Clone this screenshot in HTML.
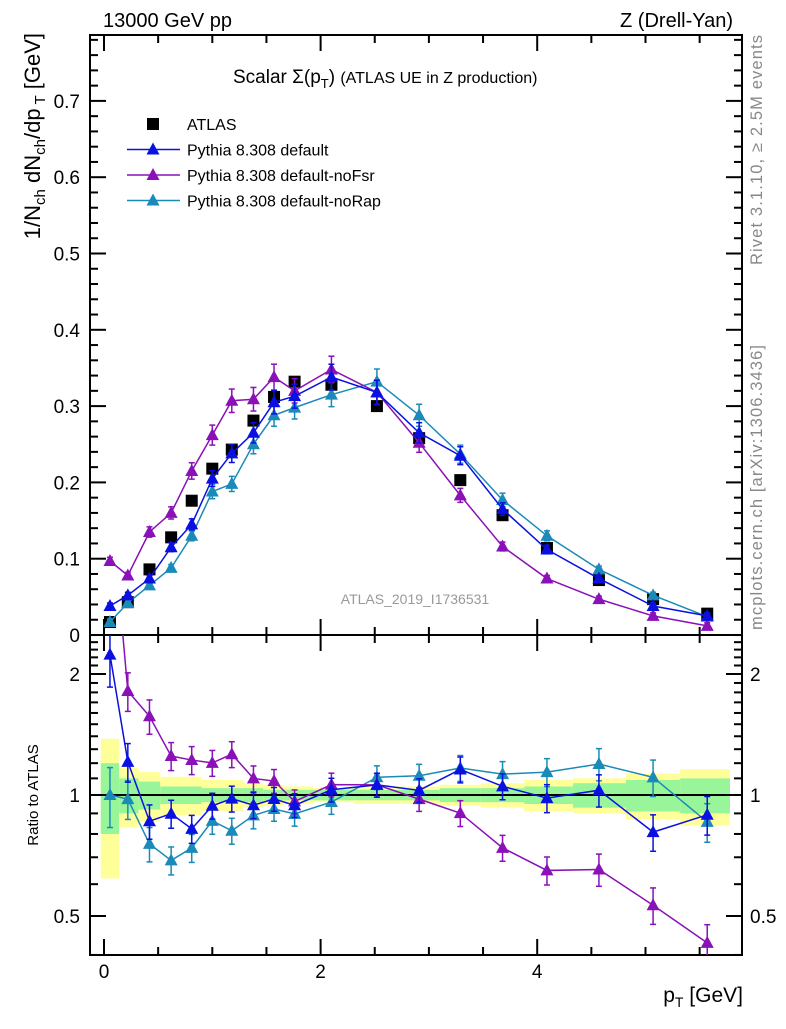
<!DOCTYPE html>
<html><head><meta charset="utf-8"><style>
body{margin:0;background:#fff;width:786px;height:1024px;overflow:hidden}
svg{font-family:"Liberation Sans",sans-serif}
</style></head><body>
<svg id="c" width="786" height="1024" xmlns="http://www.w3.org/2000/svg">
<text x="103" y="27" font-size="20">13000 GeV pp</text>
<text x="733" y="27" font-size="20" text-anchor="end">Z (Drell-Yan)</text>
<text x="233" y="83" font-size="19">Scalar Σ(p<tspan font-size="13" dy="5">T</tspan><tspan dy="-5">) </tspan><tspan font-size="16">(ATLAS UE in Z production)</tspan></text>
<text x="415" y="604" font-size="14" fill="#999" text-anchor="middle">ATLAS_2019_I1736531</text>
<text transform="translate(762,265) rotate(-90)" font-size="16.5" fill="#888" textLength="230">Rivet 3.1.10, ≥ 2.5M events</text>
<text transform="translate(762,630) rotate(-90)" font-size="16.5" fill="#888" textLength="285">mcplots.cern.ch [arXiv:1306.3436]</text>
<text transform="translate(40,33) rotate(-90)" font-size="22" text-anchor="end">1/N<tspan font-size="15" dy="5">ch</tspan><tspan dy="-5"> dN</tspan><tspan font-size="15" dy="5">ch</tspan><tspan dy="-5">/dp</tspan><tspan font-size="15" dy="5"> T</tspan><tspan dy="-5"> [GeV]</tspan></text>
<text transform="translate(38,795) rotate(-90)" font-size="15" text-anchor="middle">Ratio to ATLAS</text>
<text x="743" y="1002" font-size="21" text-anchor="end">p<tspan font-size="14" dy="5">T</tspan><tspan dy="-5"> [GeV]</tspan></text>
<g id="g"></g>
</svg>
<script>
const xs=[0.055,0.22,0.42,0.62,0.81,1.0,1.18,1.38,1.57,1.76,2.1,2.52,2.91,3.29,3.68,4.09,4.57,5.07,5.57];
const atlas=[0.017,0.043,0.086,0.128,0.176,0.218,0.243,0.281,0.312,0.332,0.328,0.300,0.258,0.203,0.157,0.114,0.072,0.047,0.028];
const pyDefault=[0.038,0.052,0.074,0.115,0.145,0.205,0.238,0.265,0.305,0.313,0.338,0.318,0.265,0.235,0.165,0.112,0.074,0.038,0.025];
const pyNoFsr=[0.097,0.078,0.135,0.160,0.215,0.262,0.307,0.309,0.338,0.320,0.348,0.318,0.252,0.183,0.116,0.074,0.047,0.025,0.012];
const pyNoRap=[0.017,0.042,0.065,0.088,0.130,0.188,0.198,0.250,0.288,0.298,0.315,0.332,0.288,0.237,0.177,0.130,0.086,0.052,0.024];
const edges=[-0.03,0.14,0.32,0.52,0.72,0.9,1.09,1.28,1.47,1.66,1.93,2.31,2.71,3.1,3.48,3.88,4.33,4.82,5.32,5.78];
const bandTot=[0.38,0.17,0.14,0.11,0.11,0.09,0.09,0.07,0.06,0.05,0.04,0.05,0.05,0.06,0.07,0.09,0.10,0.13,0.16];
const bandStat=[0.2,0.1,0.08,0.05,0.05,0.04,0.04,0.04,0.03,0.03,0.03,0.03,0.03,0.04,0.04,0.05,0.07,0.09,0.10];
const yTicks=[0,0.1,0.2,0.3,0.4,0.5,0.6,0.7];
const rTicks=[0.5,1,2];
const xTicks=[0,2,4];
const X=v=>104+v*108.3, Y=v=>635-v*763;
const R=r=>795-Math.log2(r)*121;
const L=90,Rt=742,T=35,B=635,B2=955;
const g=document.getElementById('g');const NS='http://www.w3.org/2000/svg';
function el(t,a,p){const e=document.createElementNS(NS,t);for(const k in a)e.setAttribute(k,a[k]);(p||g).appendChild(e);return e;}
for(let i=0;i<xs.length;i++){
 const b=el('rect',{x:X(edges[i]),width:X(edges[i+1])-X(edges[i]),y:R(1+bandTot[i]),height:R(1-bandTot[i])-R(1+bandTot[i]),fill:'#ffff99'});
 
 
 const s=el('rect',{x:X(edges[i]),width:X(edges[i+1])-X(edges[i]),y:R(1+bandStat[i]),height:R(1-bandStat[i])-R(1+bandStat[i]),fill:'#99f599'});
 
 
}
const one=el('line',{x1:L,x2:Rt,y1:R(1),y2:R(1),stroke:'#000','stroke-width':2});


for(const [y1,y2,n] of [[T,B,'main-frame'],[B,B2,'ratio-frame']]){
 const f=el('rect',{x:L,y:y1,width:Rt-L,height:y2-y1,fill:'none',stroke:'#000','stroke-width':2});
 
 
}
for(let v=0;v<=5.8;v+=0.5){const maj=Math.abs(v%2)<1e-6;const len=maj?16:8;
 for(const [top,bot] of [[T,B],[B,B2]]){el('line',{x1:X(v),x2:X(v),y1:bot,y2:bot-len,stroke:'#000','stroke-width':2});el('line',{x1:X(v),x2:X(v),y1:top,y2:top+len,stroke:'#000','stroke-width':2});}}
xTicks.forEach(v=>{const t=el('text',{x:X(v),y:978,'font-size':19,'text-anchor':'middle'});t.textContent=v;
 
 });
for(let i=0;i<=39;i++){const v=i*0.02;const maj=i%5==0;const len=maj?16:8;const y=Y(v);if(y<T)break;
 el('line',{x1:L,x2:L+len,y1:y,y2:y,stroke:'#000','stroke-width':2});el('line',{x1:Rt,x2:Rt-len,y1:y,y2:y,stroke:'#000','stroke-width':2});}
yTicks.forEach(v=>{const t=el('text',{x:80,y:Y(v)+7,'font-size':19,'text-anchor':'end'});t.textContent=v==0?'0':v.toFixed(1);
 
 });
for(let i=4;i<=25;i++){const v=i/10;const y=R(v);if(y<B||y>B2)continue;const maj=(v==0.5||v==1||v==2);const len=maj?16:8;
 el('line',{x1:L,x2:L+len,y1:y,y2:y,stroke:'#000','stroke-width':2});el('line',{x1:Rt,x2:Rt-len,y1:y,y2:y,stroke:'#000','stroke-width':2});}
rTicks.forEach(v=>{for(const [x,a] of [[80,'end'],[750,'start']]){const t=el('text',{x:x,y:R(v)+7,'font-size':19,'text-anchor':a});t.textContent=v;
 
 }});
const defs=el('defs',{});
const c1=el('clipPath',{id:'cm'},defs);el('rect',{x:L,y:T,width:Rt-L,height:B-T},c1);
const c2=el('clipPath',{id:'cr'},defs);el('rect',{x:L,y:B,width:Rt-L,height:B2-B},c2);
const gm=el('g',{'clip-path':'url(#cm)'});const gr=el('g',{'clip-path':'url(#cr)'});
function tri(p,x,y,col,n){const t=el('polygon',{points:`${x},${y-7} ${x-6.5},${y+5} ${x+6.5},${y+5}`,fill:col},p);
 
 }
const series=[[pyNoRap,'#1a8ab8','norap'],[pyNoFsr,'#8a10b8','nofsr'],[pyDefault,'#0a10e0','default']];
atlas.forEach((v,i)=>{const r=el('rect',{x:X(xs[i])-6,y:Y(v)-6,width:12,height:12,fill:'#000'},gm);
 
 });
series.forEach(([d,col,nm])=>{
 const pl=el('polyline',{points:d.map((v,i)=>X(xs[i])+','+Y(v)).join(' '),fill:'none',stroke:col,'stroke-width':1.5},gm);
 
 
 d.forEach((v,i)=>{const e=Math.max(0.004,v*0.05);const x=X(xs[i]);
  el('line',{x1:x,x2:x,y1:Y(v+e),y2:Y(v-e),stroke:col,'stroke-width':1.5},gm);
  el('line',{x1:x-3,x2:x+3,y1:Y(v+e),y2:Y(v+e),stroke:col,'stroke-width':1.5},gm);
  el('line',{x1:x-3,x2:x+3,y1:Y(v-e),y2:Y(v-e),stroke:col,'stroke-width':1.5},gm);
  tri(gm,x,Y(v),col,nm+'-point');});
 const rr=d.map((v,i)=>v/atlas[i]);
 const pr=el('polyline',{points:rr.map((v,i)=>X(xs[i])+','+R(v)).join(' '),fill:'none',stroke:col,'stroke-width':1.5},gr);
 
 
 rr.forEach((v,i)=>{const x=X(xs[i]);const e=v*(0.05+bandStat[i]*0.6);
  el('line',{x1:x,x2:x,y1:R(v+e),y2:R(v-e),stroke:col,'stroke-width':1.5},gr);
  el('line',{x1:x-3,x2:x+3,y1:R(v+e),y2:R(v+e),stroke:col,'stroke-width':1.5},gr);
  el('line',{x1:x-3,x2:x+3,y1:R(v-e),y2:R(v-e),stroke:col,'stroke-width':1.5},gr);
  tri(gr,x,R(v),col,nm+'-ratio-point');});
});
const leg=[['ATLAS','#000','sq'],['Pythia 8.308 default','#0a10e0'],['Pythia 8.308 default-noFsr','#8a10b8'],['Pythia 8.308 default-noRap','#1a8ab8']];
leg.forEach(([txt,col,k],i)=>{const y=124+i*25.5;
 if(k){const r=el('rect',{x:147,y:y-6,width:12,height:12,fill:'#000'});}
 else{el('line',{x1:127,x2:180,y1:y,y2:y,stroke:col,'stroke-width':1.5});tri(g,153,y,col,'legend-marker');}
 const t=el('text',{x:187,y:y+6,'font-size':16});t.textContent=txt;
 
 });
</script>
</body></html>
